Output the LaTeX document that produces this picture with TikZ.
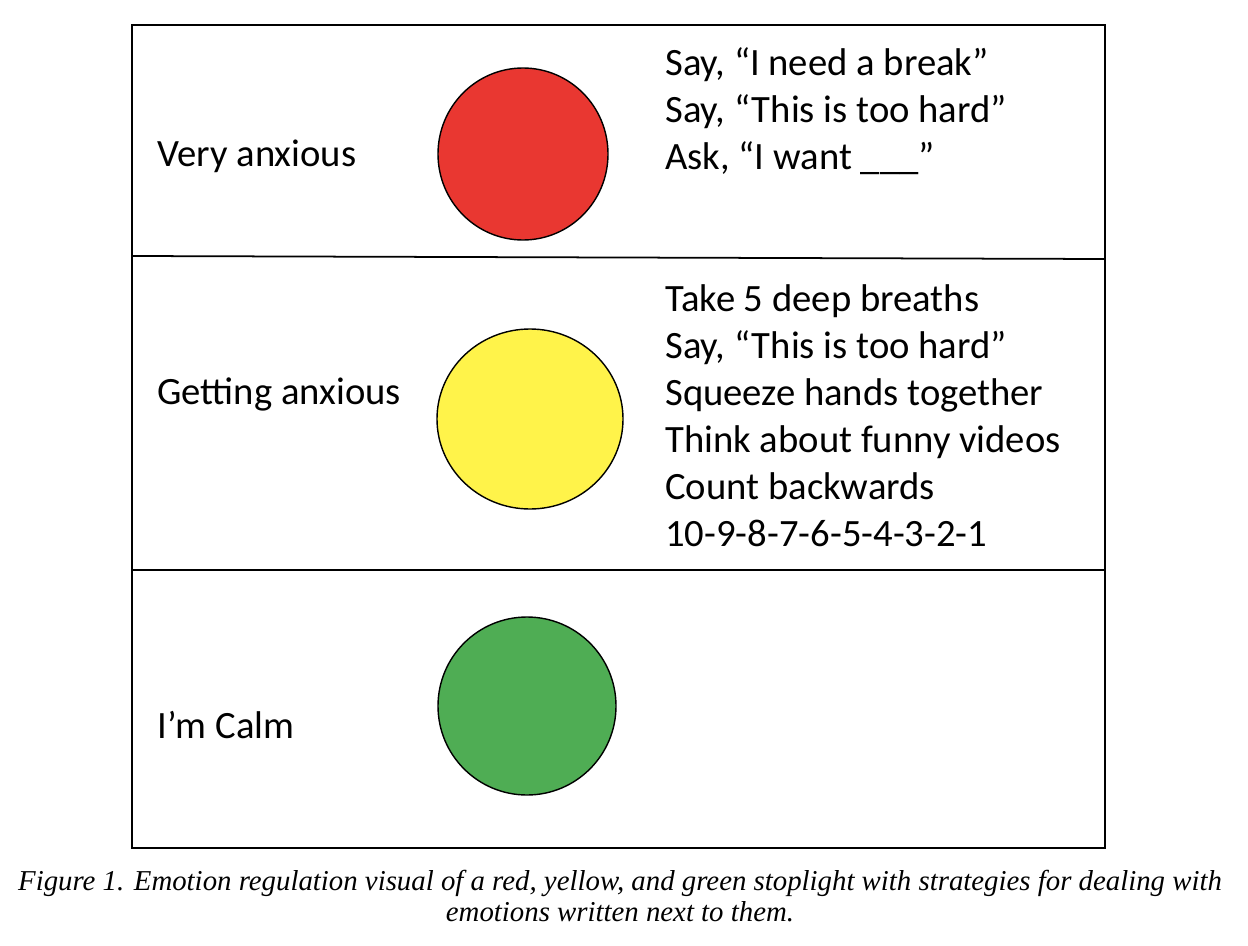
\documentclass[tikz,border=0pt]{standalone}
\usepackage{fontspec}
\setmainfont{Carlito}
\newfontfamily\capfont{Liberation Serif}
\begin{document}
\begin{tikzpicture}[x=0.02cm,y=-0.02cm,
  lbl/.style={anchor=west,font=\fontsize{22}{24}\selectfont,inner sep=0},
  lst/.style={anchor=north west,align=left,font=\fontsize{22}{26.75}\selectfont,inner sep=0},
  light/.style={draw=black,line width=0.8pt}]
\useasboundingbox (0,0) rectangle (1248,946);
\draw[line width=1pt] (132,25) rectangle (1105,848);
\draw[line width=1pt] (132,256) -- (1105,259);
\draw[line width=1pt] (132,570) -- (1105,570);
\fill[light,fill={rgb,255:red,233;green,55;blue,49}] (523,154) ellipse (85 and 86);
\fill[light,fill={rgb,255:red,255;green,243;blue,74}] (530,419) ellipse (93 and 90);
\fill[light,fill={rgb,255:red,79;green,173;blue,84}] (527,706) ellipse (89 and 89);
\node[lbl] (a) at (157,156) {Very anxious};
\node[lbl] (b) at (157,394) {Getting anxious};
\node[lbl] (c) at (157,725) {I’m Calm};
\node[lst] (la) at (665,47) {Say, “I need a break”\\Say, “This is too hard”\\Ask, “I want \_\_\_”};
\node[lst] (lb) at (665,284) {Take 5 deep breaths\\Say, “This is too hard”\\Squeeze hands together\\Think about funny videos\\Count backwards\\10-9-8-7-6-5-4-3-2-1};
\node[align=center,font=\capfont\itshape\fontsize{16.4}{18}\selectfont] (cap) at (620,896) {Figure 1. Emotion regulation visual of a red, yellow, and green stoplight with strategies for dealing with\\emotions written next to them.};
\end{tikzpicture}
\end{document}
